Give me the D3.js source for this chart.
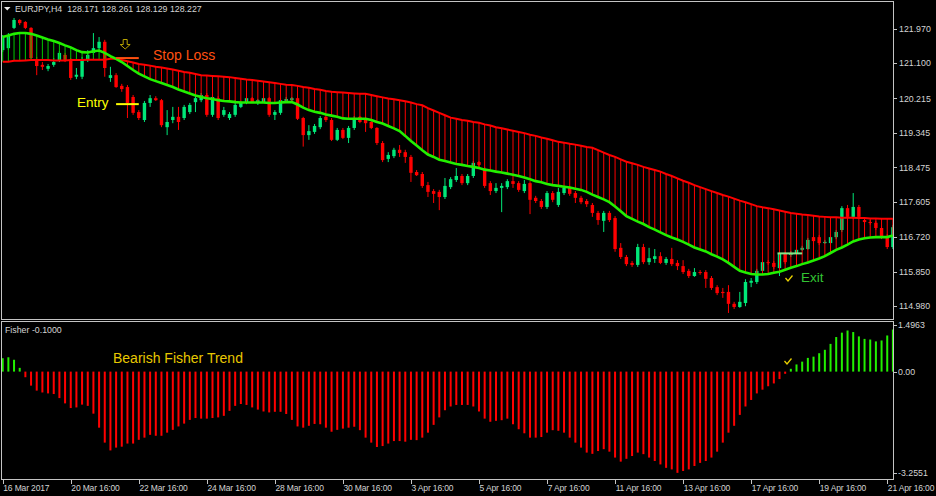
<!DOCTYPE html>
<html>
<head>
<meta charset="utf-8">
<script src="https://cdnjs.cloudflare.com/ajax/libs/d3/7.8.5/d3.min.js"></script>
<style>
html,body{margin:0;padding:0;background:#000;}
svg{display:block;}
text{font-family:"Liberation Sans",Arial,sans-serif;}
</style>
</head>
<body>
<div id="chart"></div>
<script>
//EURJPY H4 candles, 16 Mar 16:00 .. 21 Apr 20:00
const opens = [
121.43,121.48,121.99,122.19,122.14,121.99,121.18,121.06,120.96,121.06,
121.18,121.31,121.16,120.76,120.76,121.18,121.36,121.48,121.64,120.73,
120.80,120.53,120.50,120.25,119.87,119.67,120.10,120.22,120.17,119.49,
119.67,119.75,119.72,119.87,120.12,120.17,120.30,119.80,120.22,119.80,
119.72,119.80,120.00,120.12,120.22,120.10,120.12,120.22,119.80,119.85,
120.15,120.17,120.22,119.72,119.29,119.37,119.49,119.75,119.67,119.17,
119.42,119.22,119.47,119.75,119.70,119.62,119.47,119.09,118.69,118.76,
118.92,118.86,118.74,118.36,118.31,118.03,117.88,117.86,117.73,117.98,
118.16,118.26,118.08,118.26,118.61,118.44,118.08,117.88,117.96,117.98,
118.13,118.08,117.88,118.08,117.71,117.63,117.48,117.83,117.53,117.83,
117.96,117.83,117.71,117.63,117.53,117.33,117.13,117.33,117.20,116.45,
116.22,116.07,116.02,116.47,116.09,116.17,116.24,116.07,116.17,116.07,
115.99,115.87,115.74,115.84,115.84,115.69,115.46,115.34,115.34,115.04,
114.96,115.06,115.57,115.59,115.87,116.09,116.07,115.94,116.30,116.27,
116.32,116.40,116.42,116.72,116.72,116.57,116.57,116.72,116.90,117.45,
117.23,117.48,117.15,117.10,117.08,116.95,116.75,116.47]
const highs = [
121.81,121.86,122.24,122.21,122.16,122.01,121.26,121.13,121.08,121.23,
121.41,121.36,121.23,120.98,121.26,121.43,121.86,121.76,121.69,121.01,
120.85,120.58,120.55,120.30,119.92,120.15,120.30,120.27,120.20,119.92,
120.00,120.00,120.05,120.10,120.35,120.35,120.35,120.30,120.27,120.00,
119.87,120.17,120.15,120.27,120.25,120.20,120.25,120.25,119.92,120.22,
120.25,120.25,120.25,119.75,119.54,119.57,119.77,119.80,119.72,119.47,
119.47,119.52,119.77,119.77,119.75,119.67,119.49,119.14,118.86,118.97,
119.04,118.92,118.79,118.41,118.36,118.11,117.93,117.91,118.21,118.23,
118.46,118.31,118.31,118.64,118.64,118.49,118.13,118.08,118.08,118.18,
118.28,118.13,118.16,118.13,117.76,117.68,117.88,117.88,117.96,118.01,
118.01,117.88,117.76,117.68,117.58,117.38,117.38,117.38,117.25,116.57,
116.27,116.12,116.55,116.55,116.45,116.42,116.34,116.22,116.45,116.14,
116.14,115.92,115.94,115.89,115.89,115.74,115.51,115.44,115.51,115.09,
115.34,115.66,115.69,115.92,116.14,116.14,116.12,116.35,116.35,116.37,
116.45,116.50,116.70,116.77,116.77,116.65,116.77,116.90,117.50,117.53,
117.83,117.53,117.20,117.15,117.13,117.00,116.80,117.03]
const lows = [
121.38,121.43,121.96,122.06,121.96,121.18,120.80,120.93,120.90,121.01,
121.13,121.13,120.68,120.70,120.70,121.13,121.31,121.43,120.76,120.63,
120.48,120.38,119.72,119.80,119.67,119.62,120.00,120.15,119.49,119.29,
119.59,119.42,119.67,119.82,119.87,120.12,119.75,119.75,119.67,119.75,
119.67,119.75,119.97,120.07,120.10,120.05,120.10,119.75,119.67,119.80,
120.12,120.15,119.67,119.00,119.17,119.32,119.44,119.62,119.14,119.14,
119.19,119.09,119.42,119.59,119.37,119.44,119.04,118.61,118.61,118.71,
118.74,118.59,118.11,118.26,117.96,117.73,117.58,117.40,117.68,117.93,
118.11,118.03,118.03,118.21,118.49,117.96,117.78,117.83,117.35,117.93,
117.96,117.86,117.83,117.30,117.58,117.43,117.43,117.60,117.48,117.78,
117.76,117.58,117.55,117.48,117.23,117.03,116.85,117.10,116.35,116.17,
115.99,115.97,115.97,116.04,116.02,116.07,116.04,116.02,115.99,115.89,
115.79,115.69,115.72,115.77,115.44,115.39,115.26,115.19,114.81,114.91,
114.94,114.98,115.46,115.54,115.82,116.02,115.92,115.74,116.04,116.22,
116.27,116.37,116.40,116.57,116.52,116.55,116.52,116.67,116.85,117.18,
117.18,117.18,117.05,117.03,116.90,116.67,116.42,116.42]
const closes = [
121.74,121.79,122.19,122.11,121.99,121.23,121.03,121.01,121.03,121.13,
121.36,121.18,120.73,120.81,121.18,121.31,121.48,121.64,120.98,120.80,
120.50,120.45,120.10,119.85,119.72,120.10,120.22,120.17,119.54,119.62,
119.75,119.62,120.00,120.05,120.22,120.30,119.80,120.25,119.72,119.92,
119.82,120.05,120.10,120.22,120.12,120.17,120.22,119.80,119.87,120.17,
120.20,120.22,119.70,119.29,119.39,119.52,119.72,119.67,119.17,119.42,
119.22,119.47,119.72,119.62,119.59,119.47,119.09,118.66,118.79,118.92,
118.84,118.74,118.34,118.28,118.01,117.86,117.81,117.73,118.01,118.18,
118.26,118.08,118.26,118.59,118.54,118.01,117.88,117.96,118.01,118.13,
118.06,117.91,118.06,117.66,117.63,117.48,117.83,117.66,117.86,117.96,
117.81,117.71,117.60,117.55,117.33,117.15,117.33,117.15,116.42,116.22,
116.04,116.02,116.47,116.09,116.19,116.24,116.07,116.17,116.04,115.99,
115.84,115.74,115.84,115.82,115.67,115.44,115.31,115.31,115.04,114.96,
115.09,115.59,115.62,115.87,116.09,116.07,115.97,116.30,116.09,116.32,
116.40,116.45,116.65,116.62,116.57,116.60,116.72,116.85,117.45,117.23,
117.48,117.23,117.10,117.08,116.95,116.72,116.47,116.97]

//slow (red) and fast (green) moving averages
const maSlow = [
121.14,121.14,121.16,121.16,121.17,121.18,121.18,121.18,121.18,121.17,
121.17,121.17,121.18,121.18,121.18,121.19,121.19,121.19,121.19,121.21,
121.21,121.18,121.15,121.12,121.08,121.06,121.04,121.01,120.99,120.97,
120.94,120.91,120.88,120.86,120.83,120.80,120.79,120.78,120.77,120.76,
120.75,120.73,120.71,120.69,120.68,120.66,120.64,120.62,120.60,120.58,
120.56,120.55,120.53,120.50,120.48,120.45,120.43,120.40,120.38,120.37,
120.36,120.35,120.34,120.33,120.33,120.30,120.27,120.24,120.21,120.19,
120.17,120.14,120.11,120.07,120.04,119.97,119.91,119.85,119.79,119.73,
119.70,119.67,119.65,119.62,119.60,119.56,119.53,119.49,119.46,119.43,
119.40,119.37,119.34,119.30,119.27,119.23,119.20,119.16,119.12,119.10,
119.07,119.05,119.02,118.99,118.97,118.91,118.85,118.79,118.74,118.68,
118.62,118.58,118.54,118.49,118.45,118.41,118.37,118.31,118.26,118.20,
118.14,118.09,118.03,117.98,117.93,117.88,117.83,117.78,117.74,117.69,
117.64,117.60,117.55,117.50,117.47,117.45,117.42,117.39,117.36,117.33,
117.31,117.29,117.28,117.26,117.24,117.23,117.22,117.22,117.21,117.21,
117.21,117.20,117.20,117.19,117.19,117.18,117.18,117.18]
const maFast = [
121.76,121.80,121.84,121.86,121.86,121.84,121.80,121.75,121.70,121.66,
121.61,121.55,121.50,121.43,121.38,121.37,121.40,121.42,121.36,121.28,
121.21,121.13,121.03,120.93,120.84,120.77,120.70,120.65,120.60,120.55,
120.50,120.44,120.39,120.34,120.29,120.25,120.22,120.20,120.17,120.15,
120.14,120.12,120.11,120.11,120.11,120.11,120.11,120.10,120.10,120.11,
120.12,120.12,120.06,119.98,119.92,119.88,119.85,119.81,119.78,119.75,
119.71,119.70,119.70,119.70,119.70,119.67,119.62,119.58,119.52,119.46,
119.39,119.27,119.14,119.03,118.91,118.80,118.74,118.67,118.64,118.60,
118.56,118.54,118.51,118.49,118.46,118.42,118.40,118.37,118.35,118.32,
118.29,118.26,118.22,118.18,118.13,118.10,118.06,118.03,118.01,117.99,
117.97,117.94,117.91,117.86,117.79,117.73,117.67,117.60,117.49,117.37,
117.25,117.18,117.11,117.05,116.97,116.91,116.84,116.77,116.71,116.66,
116.60,116.53,116.46,116.41,116.36,116.29,116.23,116.16,116.07,115.97,
115.87,115.83,115.79,115.78,115.78,115.79,115.82,115.85,115.90,115.95,
115.99,116.04,116.08,116.13,116.18,116.24,116.32,116.40,116.46,116.53,
116.61,116.66,116.69,116.71,116.72,116.72,116.72,116.76]

//Fisher histogram
const fisher = [
0.43,0.46,0.38,0.12,-0.18,-0.45,-0.61,-0.67,-0.70,-0.72,
-0.85,-1.02,-1.17,-1.15,-1.06,-1.10,-1.35,-1.80,-2.28,-2.53,
-2.44,-2.41,-2.31,-2.31,-2.19,-2.12,-2.03,-2.06,-2.06,-1.96,
-1.87,-1.76,-1.67,-1.55,-1.49,-1.51,-1.51,-1.49,-1.47,-1.42,
-1.26,-1.10,-1.04,-1.07,-1.15,-1.22,-1.28,-1.31,-1.29,-1.29,
-1.36,-1.55,-1.76,-1.80,-1.74,-1.68,-1.69,-1.80,-1.93,-1.87,
-1.83,-1.80,-1.77,-1.88,-2.12,-2.28,-2.42,-2.39,-2.31,-2.23,
-2.23,-2.25,-2.19,-2.20,-2.12,-1.96,-1.71,-1.47,-1.24,-1.12,
-1.07,-1.07,-1.07,-1.12,-1.28,-1.51,-1.61,-1.58,-1.56,-1.51,
-1.69,-1.85,-1.98,-2.12,-2.12,-2.10,-1.96,-1.88,-1.90,-1.96,
-2.12,-2.28,-2.44,-2.60,-2.64,-2.55,-2.49,-2.57,-2.76,-2.89,
-2.80,-2.71,-2.60,-2.65,-2.76,-2.87,-2.98,-3.09,-3.14,-3.25,
-3.19,-3.14,-3.03,-2.93,-2.87,-2.76,-2.57,-2.28,-1.96,-1.74,
-1.39,-1.12,-0.91,-0.70,-0.58,-0.47,-0.38,-0.24,-0.07,0.09,
0.23,0.32,0.44,0.48,0.59,0.70,0.89,1.11,1.25,1.32,
1.27,1.13,1.05,1.03,0.97,1.00,1.16,1.35]

//axis labels
const priceTicks = [121.970,121.100,120.215,119.345,118.475,117.605,116.720,115.850,114.980]
const fisherTicks = [1.4963,0,-3.2551]
const fisherTickLabels = ["1.4963","0.00","-3.2551"]
const timeTickBars = [0,12,24,36,48,60,72,84,96,108,120,132,144,156]
const timeTickLabels = ["16 Mar 2017","20 Mar 16:00","22 Mar 16:00","24 Mar 16:00","28 Mar 16:00","30 Mar 16:00",
  "3 Apr 16:00","5 Apr 16:00","7 Apr 16:00","11 Apr 16:00","13 Apr 16:00","17 Apr 16:00","19 Apr 16:00","21 Apr 16:00"]

//trade levels
const stopLossLevel = 121.23
const entryLevel = 120.07
const exitLevel = 116.31

const frameColor = "#c4c4c4"
const labelColor = "#d4d4d4"
const bullColor = "#00e878"
const bearColor = "#ff0000"

let svg = d3.select("#chart")
.append("svg")
.attr("width", 936)
.attr("height", 496)

svg.append("rect")
.attr("width", 936)
.attr("height", 496)
.attr("fill", "#000")

let x = d3.scaleLinear()
.domain([0, 157])
.range([2.7, 892.9])

let y = d3.scaleLinear()
.domain([121.970, 114.980])
.range([28.7, 306.2])

let yF = d3.scaleLinear()
.domain([1.4963, -3.2551])
.range([325, 473])

let defs = svg.append("defs")
defs.append("clipPath").attr("id","clipMain")
.append("rect").attr("x",2).attr("y",2).attr("width",891).attr("height",317)
defs.append("clipPath").attr("id","clipSub")
.append("rect").attr("x",2).attr("y",322).attr("width",891).attr("height",157)

let bars = d3.range(opens.length)

//main window
let main = svg.append("g").attr("clip-path","url(#clipMain)")

//candles
main.selectAll(".wick")
.data(bars)
.enter().append("line")
.attr("x1", i => x(i))
.attr("x2", i => x(i))
.attr("y1", i => y(highs[i]))
.attr("y2", i => y(lows[i]))
.attr("stroke", i => closes[i] >= opens[i] ? bullColor : bearColor)
.attr("stroke-width", 1)

main.selectAll(".body")
.data(bars)
.enter().append("rect")
.attr("x", i => x(i) - 1.7)
.attr("width", 3.4)
.attr("y", i => y(Math.max(opens[i], closes[i])))
.attr("height", i => Math.max(1, Math.abs(y(opens[i]) - y(closes[i]))))
.attr("fill", i => closes[i] >= opens[i] ? bullColor : bearColor)

//histogram between the averages
main.selectAll(".band")
.data(bars)
.enter().append("line")
.attr("x1", i => x(i))
.attr("x2", i => x(i))
.attr("y1", i => y(maSlow[i]))
.attr("y2", i => y(maFast[i]))
.attr("stroke", i => maFast[i] > maSlow[i] ? "#00c800" : "#ff0000")
.attr("stroke-width", 1)

//moving averages
let line = d3.line()
.x((d, i) => x(i))
.y(d => y(d))

main.append("path")
.attr("d", line(maSlow))
.attr("fill", "none")
.attr("stroke", "#ff0000")
.attr("stroke-width", 2)

main.append("path")
.attr("d", line(maFast))
.attr("fill", "none")
.attr("stroke", "#22f000")
.attr("stroke-width", 2.6)

//trade annotations
main.append("line")
.attr("x1", x(20)).attr("x2", x(24))
.attr("y1", y(stopLossLevel)).attr("y2", y(stopLossLevel))
.attr("stroke", "#ff5010").attr("stroke-width", 2)

main.append("line")
.attr("x1", x(20)).attr("x2", x(24))
.attr("y1", y(entryLevel)).attr("y2", y(entryLevel))
.attr("stroke", "#ffff00").attr("stroke-width", 2)

main.append("line")
.attr("x1", x(137) - 2).attr("x2", x(141))
.attr("y1", y(exitLevel)).attr("y2", y(exitLevel))
.attr("stroke", "#86e486").attr("stroke-width", 2)

//hollow down arrow above the entry bar
let ax = x(21.6)
main.append("path")
.attr("d", `M${ax-2},39.5 h4 v5 h3 l-5,4.5 l-5,-4.5 h3 z`)
.attr("fill", "none")
.attr("stroke", "#b8a400")
.attr("stroke-width", 1)

main.append("text")
.text("Stop Loss")
.attr("x", 153).attr("y", 60)
.attr("fill", "#ff5010")
.style("font-size", "14px")

main.append("text")
.text("Entry")
.attr("x", 77).attr("y", 106.5)
.attr("fill", "#ffff00")
.style("font-size", "13.5px")

function tick(g, cx, cy){
  g.append("path")
  .attr("d", `M${cx-3.5},${cy} l2.5,3 l4.5,-5.5`)
  .attr("fill", "none")
  .attr("stroke", "#e8d000")
  .attr("stroke-width", 1.3)
}
tick(main, 789, 278)

main.append("text")
.text("Exit")
.attr("x", 801).attr("y", 281.5)
.attr("fill", "#33c433")
.style("font-size", "13.5px")

//header
svg.append("path")
.attr("d", "M4,7 h6.5 l-3.25,3.5 z")
.attr("fill", "#e8e8e8")
svg.append("text")
.text("EURJPY,H4  128.171 128.261 128.129 128.227")
.attr("x", 15).attr("y", 12.2)
.attr("fill", labelColor)
.style("font-size", "8.8px")
.attr("xml:space", "preserve")

//fisher window
let sub = svg.append("g").attr("clip-path","url(#clipSub)")

sub.selectAll(".fbar")
.data(bars)
.enter().append("rect")
.attr("x", i => x(i) - 1)
.attr("width", 2)
.attr("y", i => Math.min(yF(0), yF(fisher[i])))
.attr("height", i => Math.abs(yF(fisher[i]) - yF(0)))
.attr("fill", i => fisher[i] >= 0 ? "#22f000" : "#ff0000")

sub.append("text")
.text("Fisher -0.1000")
.attr("x", 5).attr("y", 332.5)
.attr("fill", labelColor)
.style("font-size", "8.8px")

sub.append("text")
.text("Bearish Fisher Trend")
.attr("x", 113).attr("y", 362.5)
.attr("fill", "#e8c800")
.style("font-size", "14px")

tick(sub, 788, 361)

//frames
svg.append("rect")
.attr("x", 1.5).attr("y", 1.5)
.attr("width", 892).attr("height", 318)
.attr("fill", "none").attr("stroke", frameColor)

svg.append("rect")
.attr("x", 1.5).attr("y", 321.5)
.attr("width", 892).attr("height", 158)
.attr("fill", "none").attr("stroke", frameColor)

//price axis
let pAxis = svg.append("g")
pAxis.selectAll("line")
.data(priceTicks)
.enter().append("line")
.attr("x1", 893.5).attr("x2", 897)
.attr("y1", d => Math.round(y(d)) + 0.5)
.attr("y2", d => Math.round(y(d)) + 0.5)
.attr("stroke", frameColor)
pAxis.selectAll("text")
.data(priceTicks)
.enter().append("text")
.text(d => d.toFixed(3))
.attr("x", 899)
.attr("y", d => y(d) + 3.2)
.attr("fill", labelColor)
.style("font-size", "8.8px")

//fisher axis
let fAxis = svg.append("g")
fAxis.selectAll("line")
.data(fisherTicks)
.enter().append("line")
.attr("x1", 893.5).attr("x2", 897)
.attr("y1", d => Math.round(yF(d)) + 0.5)
.attr("y2", d => Math.round(yF(d)) + 0.5)
.attr("stroke", frameColor)
fAxis.selectAll("text")
.data(fisherTicks)
.enter().append("text")
.text((d, i) => fisherTickLabels[i])
.attr("x", 898)
.attr("y", d => yF(d) + 3.2)
.attr("fill", labelColor)
.style("font-size", "8.8px")

//time axis
let tAxis = svg.append("g")
tAxis.selectAll("line")
.data(timeTickBars)
.enter().append("line")
.attr("x1", d => Math.round(x(d)) + 0.5)
.attr("x2", d => Math.round(x(d)) + 0.5)
.attr("y1", 480).attr("y2", 484)
.attr("stroke", frameColor)
tAxis.selectAll("text")
.data(timeTickBars)
.enter().append("text")
.text((d, i) => timeTickLabels[i])
.attr("x", d => x(d) + 0.6)
.attr("y", 490.5)
.attr("fill", labelColor)
.style("font-size", "8.5px")
.style("letter-spacing", "-0.15px")
</script>
</body>
</html>
